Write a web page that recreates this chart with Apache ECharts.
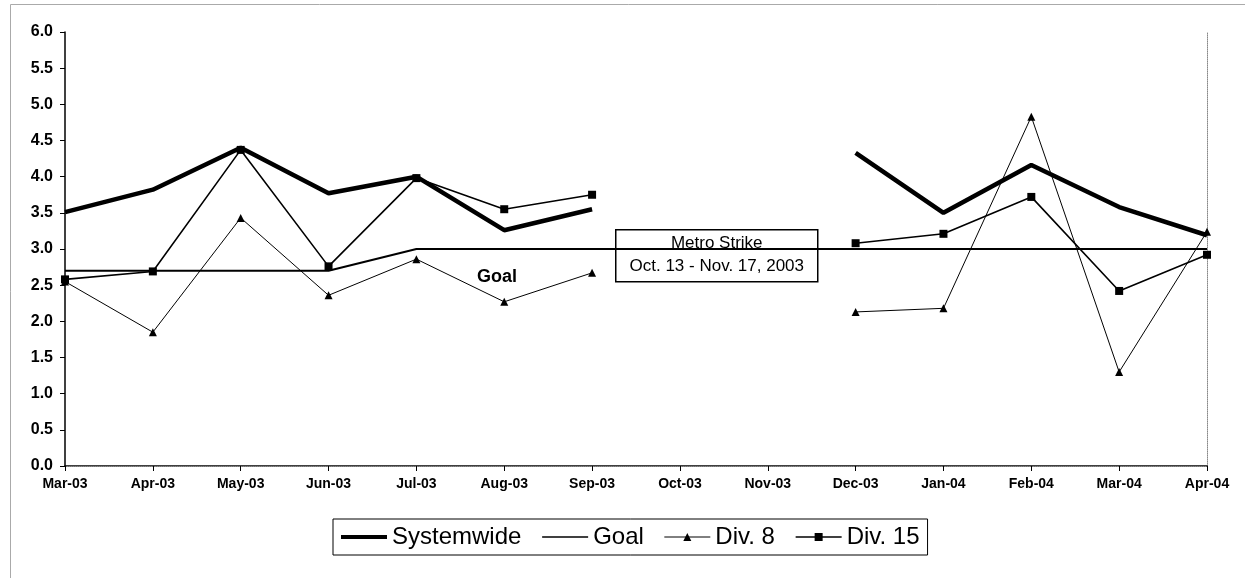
<!DOCTYPE html>
<html>
<head>
<meta charset="utf-8">
<script src="https://cdn.jsdelivr.net/npm/echarts@6/dist/echarts.min.js"></script>
<style>
html, body { margin: 0; padding: 0; background: #fff; }
#chart { width: 1245px; height: 578px; }
</style>
</head>
<body>
<div id="chart"></div>
<script>
// month categories along the x axis
var months = ['Mar-03','Apr-03','May-03','Jun-03','Jul-03','Aug-03','Sep-03',
              'Oct-03','Nov-03','Dec-03','Jan-04','Feb-04','Mar-04','Apr-04'];
// values (null = metro strike, no data)
var systemwide = [3.51, 3.82, 4.40, 3.77, 4.00, 3.26, 3.55, null, null, 4.33, 3.50, 4.16, 3.58, 3.19];
var goal       = [2.7, 2.7, 2.7, 2.7, 3.0, 3.0, 3.0, 3.0, 3.0, 3.0, 3.0, 3.0, 3.0, 3.0];
var div8       = [2.55, 1.85, 3.43, 2.36, 2.86, 2.27, 2.67, null, null, 2.13, 2.18, 4.83, 1.30, 3.24];
var div15      = [2.58, 2.69, 4.37, 2.76, 3.98, 3.55, 3.75, null, null, 3.08, 3.21, 3.72, 2.42, 2.92];

var FONT = '"Liberation Sans", Arial, sans-serif';

var myChart = echarts.init(document.getElementById('chart'));

var option = {
	animation: false,
	backgroundColor: '#fff',
	textStyle: {fontFamily: FONT, color: '#000'},
	grid: {left: 65, right: 38, top: 32, bottom: 112},
	legend: {
		left: 333,
		top: 519,
		padding: [6, 8, 6, 6],
		itemGap: 20,
		itemWidth: 46,
		itemHeight: 10,
		borderColor: '#000',
		borderWidth: 1,
		textStyle: {fontSize: 24, color: '#000', fontFamily: FONT},
		data: [
			{name: 'Systemwide', itemStyle: {opacity: 0}, lineStyle: {width: 4, color: '#000'}},
			{name: 'Goal', itemStyle: {opacity: 0}, lineStyle: {width: 1.5, color: '#000'}},
			{name: 'Div. 8', lineStyle: {width: 1, color: '#000'}},
			{name: 'Div. 15', lineStyle: {width: 1.5, color: '#000'}}
		]
	},
	xAxis: [
	{
		type: 'category',
		data: months,
		boundaryGap: false,
		axisLine: {lineStyle: {color: '#000', width: 1.5}},
		axisTick: {show: true, length: 5, lineStyle: {color: '#000'}},
		axisLabel: {fontSize: 14, fontWeight: 'bold', color: '#000', margin: 11, fontFamily: FONT},
		splitLine: {show: false}
	},
	{
		type: 'category',
		data: months,
		position: 'top',
		boundaryGap: false,
		axisLine: {lineStyle: {color: '#888', type: 'dotted', width: 1}},
		axisTick: {show: false},
		axisLabel: {show: false},
		splitLine: {show: false}
	}
	],
	yAxis: [
	{
		type: 'value',
		min: 0,
		max: 6,
		interval: 0.5,
		axisLine: {show: true, lineStyle: {color: '#000', width: 1.5}},
		axisTick: {show: true, length: 5, lineStyle: {color: '#000'}},
		axisLabel: {
			fontSize: 16, fontWeight: 'bold', color: '#000', margin: 12, fontFamily: FONT,
			formatter: function (v) { return v.toFixed(1); }
		},
		splitLine: {show: false}
	},
	{
		type: 'value',
		min: 0,
		max: 6,
		interval: 0.5,
		position: 'right',
		axisLine: {show: true, lineStyle: {color: '#888', type: 'dotted', width: 1}},
		axisTick: {show: false},
		axisLabel: {show: false},
		splitLine: {show: false}
	}
	],
	series: [
		{
			name: 'Goal',
			type: 'line',
			data: goal,
			symbol: 'none',
			lineStyle: {color: '#000', width: 2},
			itemStyle: {color: '#000'}
		},
		{
			name: 'Div. 8',
			type: 'line',
			data: div8,
			symbol: 'triangle',
			symbolSize: 8,
			connectNulls: false,
			lineStyle: {color: '#000', width: 1},
			itemStyle: {color: '#000'}
		},
		{
			name: 'Div. 15',
			type: 'line',
			data: div15,
			symbol: 'rect',
			symbolSize: 8,
			connectNulls: false,
			lineStyle: {color: '#000', width: 1.6},
			itemStyle: {color: '#000'}
		},
		{
			name: 'Systemwide',
			type: 'line',
			data: systemwide,
			symbol: 'none',
			connectNulls: false,
			lineStyle: {color: '#000', width: 4.5},
			itemStyle: {color: '#000'}
		}
	],
	graphic: [
		{
			type: 'rect',
			shape: {x: 10.5, y: 4.5, width: 1240, height: 580},
			style: {fill: null, stroke: '#aaa', lineWidth: 1},
			silent: true
		},
		{
			type: 'text',
			left: 477,
			top: 268,
			style: {text: 'Goal', font: 'bold 18px ' + FONT, fill: '#000'}
		},
		{
			type: 'group',
			left: 615,
			top: 229,
			children: [
				{
					type: 'rect',
					shape: {x: 0, y: 0, width: 202, height: 52},
					style: {fill: '#fff', stroke: '#000', lineWidth: 1.5}
				},
				{
					type: 'text',
					x: 101,
					y: 5,
					style: {text: 'Metro Strike', font: '17px ' + FONT, fill: '#000', align: 'center'}
				},
				{
					type: 'text',
					x: 101,
					y: 28,
					style: {text: 'Oct. 13 - Nov. 17, 2003', font: '17px ' + FONT, fill: '#000', align: 'center'}
				}
			]
		}
	]
};
myChart.setOption(option);
</script>
</body>
</html>
